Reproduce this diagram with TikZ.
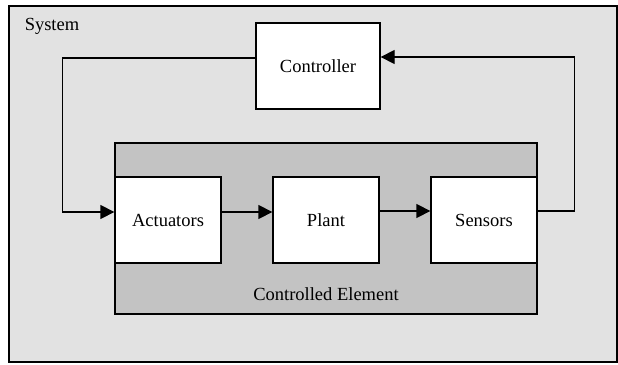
\documentclass[tikz,border=0pt]{standalone}
\usepackage{fontspec}
\setmainfont{Liberation Serif}
\usetikzlibrary{arrows.meta}
\definecolor{sysgray}{HTML}{E2E2E2}
\definecolor{cegray}{HTML}{C3C3C3}
\begin{document}
\begin{tikzpicture}[x=1pt,y=1pt,
  blk/.style={draw=black,line width=1.3pt,fill=white,minimum height=86pt,inner sep=0pt,font=\fontsize{18.5}{22}\selectfont},
  conn/.style={line width=1.3pt,-{Triangle[length=14pt,width=14pt]}},
  lbl/.style={font=\fontsize{18.5}{22}\selectfont,inner sep=0pt}]
\useasboundingbox (0,0) rectangle (618,-364);
\draw[line width=1.8pt,fill=sysgray] (9,-6) rectangle (617,-362);
\node[lbl] (syslbl) at (52,-26) {System};
\draw[line width=1.3pt,fill=cegray] (115,-143) rectangle (537,-314);
\node[lbl] (celbl) at (326,-294) {Controlled Element};
\node[blk,minimum width=124pt] (ctrl) at (318,-66) {Controller};
\node[blk,minimum width=106pt] (act) at (168,-220) {Actuators};
\node[blk,minimum width=106pt] (plant) at (326,-220) {Plant};
\node[blk,minimum width=106pt] (sens) at (484,-220) {Sensors};
\draw[conn] ([yshift=8pt]ctrl.west) -- ++(-193,0) |- ([yshift=8pt]act.west);
\draw[conn] ([yshift=8pt]act.east) -- ([yshift=8pt]plant.west);
\draw[conn] ([yshift=9pt]plant.east) -- ([yshift=9pt]sens.west);
\draw[conn] ([yshift=9pt]sens.east) -- ++(37,0) |- ([yshift=9pt]ctrl.east);
\end{tikzpicture}
\end{document}
